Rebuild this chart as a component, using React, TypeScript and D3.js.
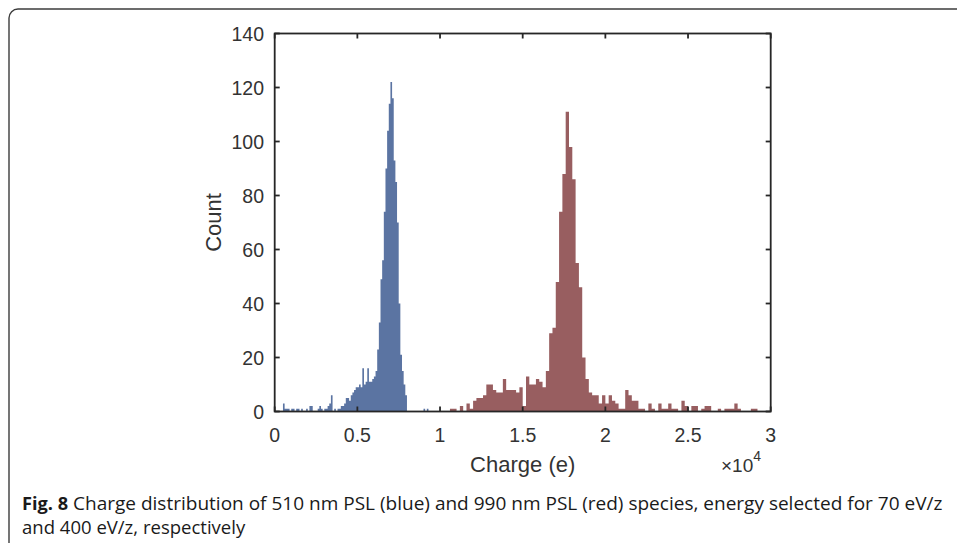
import React, { useLayoutEffect, useRef, useState } from "react";
import * as d3 from "d3";

// Histogram data (charge in units of 1e4 e)
const blueStart = 0.0;
const blueBinWidth = 0.01;
const blueCounts = [
  0, 0, 0, 0, 0, 3, 1, 1, 1, 0,
  1, 1, 0, 1, 1, 0, 1, 0, 0, 1,
  0, 2, 2, 0, 0, 0, 1, 2, 1, 0,
  1, 1, 2, 3, 6, 0, 1, 0, 1, 1,
  2, 2, 3, 5, 5, 4, 6, 7, 8, 9,
  9, 10, 9, 16, 10, 11, 16, 11, 11, 12,
  13, 15, 23, 33, 49, 56, 74, 90, 104, 114,
  122, 116, 93, 85, 70, 40, 21, 15, 10, 6,
  0, 0, 0, 0, 0, 0, 0, 0, 0, 0,
  1, 0, 1,
];

const redStart = 1.0;
const redBinWidth = 0.02;
const redCounts = [
  0, 0, 0, 1, 1, 0, 2, 0, 3, 1,
  4, 5, 5, 6, 10, 10, 8, 7, 7, 12,
  8, 8, 8, 7, 9, 2, 13, 10, 10, 12,
  11, 9, 15, 29, 31, 48, 74, 88, 111, 98,
  86, 55, 46, 20, 12, 7, 6, 6, 3, 6,
  3, 6, 4, 3, 1, 1, 8, 6, 4, 4,
  1, 1, 0, 3, 1, 0, 3, 1, 1, 3,
  1, 1, 0, 4, 2, 0, 2, 2, 0, 1,
  2, 2, 0, 0, 1, 0, 1, 1, 1, 3,
  1, 0, 0, 0, 1, 1,
];

const xTicks = [0, 0.5, 1, 1.5, 2, 2.5, 3];
const xTickLabels = ["0", "0.5", "1", "1.5", "2", "2.5", "3"];
const yTicks = [0, 20, 40, 60, 80, 100, 120, 140];

const captionLabel = "Fig. 8";
const captionLine1 = "Charge distribution of 510 nm PSL (blue) and 990 nm PSL (red) species, energy selected for 70 eV/z";
const captionLine2 = "and 400 eV/z, respectively";

const blueColor = "#5b74a2";
const redColor = "#985e60";
const axisColor = "#262626";
const textColor = "#333333";
const tickFont = "'Liberation Sans', Arial, Helvetica, sans-serif";
const captionFont = "'Open Sans', 'Noto Sans', sans-serif";

function FitText(props: {
  x: number;
  y: number;
  width: number;
  fontSize: number;
  fontWeight?: string;
  text: string;
}) {
  const ref = useRef<SVGTextElement>(null);
  const [sx, setSx] = useState(0.9);
  useLayoutEffect(() => {
    if (ref.current) {
      const w = ref.current.getComputedTextLength();
      if (w > 0) setSx(props.width / w);
    }
  }, [props.text, props.width, props.fontSize]);
  return (
    <text
      ref={ref}
      transform={`translate(${props.x},${props.y}) scale(${sx},1)`}
      fontFamily={captionFont}
      fontSize={props.fontSize}
      fontWeight={props.fontWeight || "normal"}
      fill="#1a1a1a"
    >
      {props.text}
    </text>
  );
}

export default function App() {
  const W = 957;
  const H = 543;
  const left = 274.7;
  const right = 770.7;
  const top = 33.5;
  const bottom = 411.5;

  const x = d3.scaleLinear().domain([0, 3]).range([left, right]);
  const y = d3.scaleLinear().domain([0, 140]).range([bottom, top]);

  // One step-outline path per series so adjacent bins have no seams
  const histPath = (counts: number[], start: number, w: number) => {
    const p = d3.path();
    p.moveTo(x(start), y(0));
    counts.forEach((c, i) => {
      p.lineTo(x(start + i * w), y(c));
      p.lineTo(x(start + (i + 1) * w), y(c));
    });
    p.lineTo(x(start + counts.length * w), y(0));
    p.closePath();
    return p.toString();
  };

  const tickLen = 5;

  return (
    <svg
      width={W}
      height={H}
      viewBox={`0 0 ${W} ${H}`}
      style={{ position: "absolute", left: 0, top: 0, background: "#fff" }}
    >
      {/* figure frame */}
      <rect x={9} y={9} width={1000} height={700} rx={9} ry={9} fill="none" stroke="#3c3c3c" strokeWidth={1.4} />

      {/* bars */}
      <path d={histPath(blueCounts, blueStart, blueBinWidth)} fill={blueColor} />
      <path d={histPath(redCounts, redStart, redBinWidth)} fill={redColor} />

      {/* axes box */}
      <rect x={left} y={top} width={right - left} height={bottom - top} fill="none" stroke={axisColor} strokeWidth={1.8} />

      {/* x ticks */}
      {xTicks.map((t, i) => (
        <g key={"xt" + i}>
          <line x1={x(t)} x2={x(t)} y1={bottom} y2={bottom - tickLen} stroke={axisColor} strokeWidth={1.8} />
          <line x1={x(t)} x2={x(t)} y1={top} y2={top + tickLen} stroke={axisColor} strokeWidth={1.8} />
          <text x={x(t)} y={442} textAnchor="middle" fontFamily={tickFont} fontSize={19.5} fill={textColor}>
            {xTickLabels[i]}
          </text>
        </g>
      ))}

      {/* y ticks */}
      {yTicks.map((t, i) => (
        <g key={"yt" + i}>
          <line x1={left} x2={left + tickLen} y1={y(t)} y2={y(t)} stroke={axisColor} strokeWidth={1.8} />
          <line x1={right} x2={right - tickLen} y1={y(t)} y2={y(t)} stroke={axisColor} strokeWidth={1.8} />
          <text x={264} y={y(t) + 7} textAnchor="end" fontFamily={tickFont} fontSize={19.5} fill={textColor}>
            {t}
          </text>
        </g>
      ))}

      {/* axis labels */}
      <text x={(left + right) / 2} y={472} textAnchor="middle" fontFamily={tickFont} fontSize={22} fill={textColor}>
        Charge (e)
      </text>
      <text
        transform={`translate(221, ${(top + bottom) / 2}) rotate(-90)`}
        textAnchor="middle"
        fontFamily={tickFont}
        fontSize={22}
        fill={textColor}
      >
        Count
      </text>
      <text x={721} y={472} fontFamily={tickFont} fontSize={19} fill={textColor}>
        ×10
        <tspan dy={-11} fontSize={14}>4</tspan>
      </text>

      {/* caption */}
      <FitText x={22} y={510} width={46} fontSize={17.5} fontWeight="bold" text={captionLabel} />
      <FitText x={73} y={510} width={869} fontSize={17.5} text={captionLine1} />
      <FitText x={22} y={534} width={223} fontSize={17.5} text={captionLine2} />
    </svg>
  );
}
